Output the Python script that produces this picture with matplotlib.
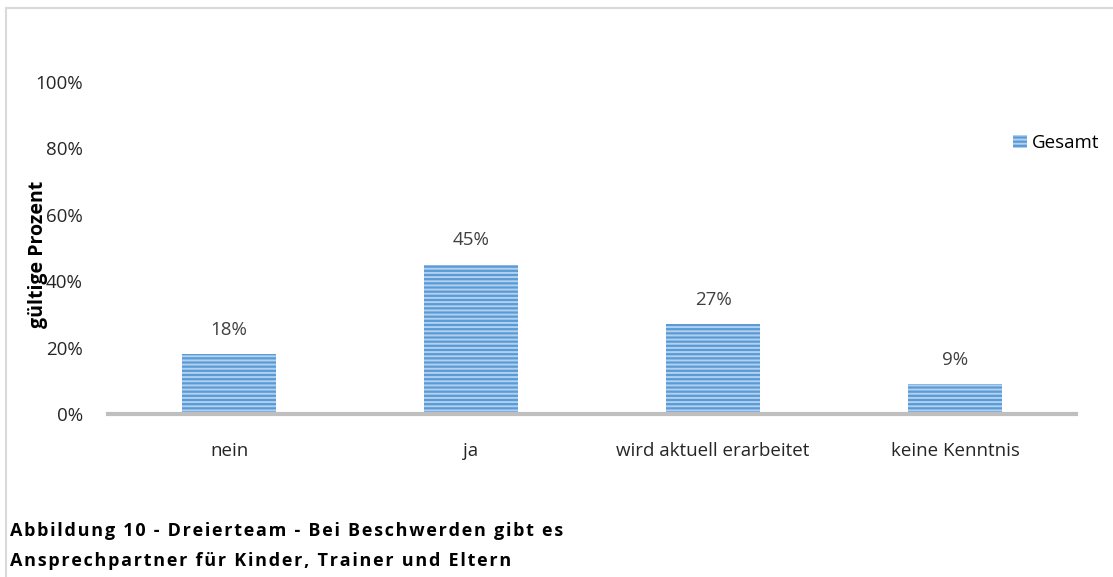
import matplotlib
matplotlib.use("Agg")
import matplotlib.pyplot as plt
from matplotlib.patches import Rectangle

categories = ["nein", "ja", "wird aktuell erarbeitet", "keine Kenntnis"]
values = [0.18, 0.45, 0.27, 0.09]
value_labels = ["18%", "45%", "27%", "9%"]
yticks = [0, 0.2, 0.4, 0.6, 0.8, 1.0]
ytick_labels = ["0%", "20%", "40%", "60%", "80%", "100%"]
series_name = "Gesamt"
ylabel = "gültige Prozent"
title_lines = ["Abbildung 10 - Dreierteam - Bei Beschwerden gibt es",
               "Ansprechpartner für Kinder, Trainer und Eltern"]

FONT = ["Open Sans", "DejaVu Sans"]
plt.rcParams['font.family'] = FONT
plt.rcParams['hatch.linewidth'] = 1.4

W, H = 1113, 577
fig = plt.figure(figsize=(W / 100, H / 100), dpi=100)
fig.patch.set_facecolor("white")

# outer chart frame
fig.patches.append(Rectangle((6 / W, -0.1), 1.2, 1.1 - 8 / H,
                             transform=fig.transFigure, fill=False,
                             edgecolor="#d9d9d9", linewidth=1.5))

ax = fig.add_axes([108 / W, 1 - 414 / H, (1076 - 108) / W, (414 - 82) / H])
x = list(range(len(categories)))
bars = ax.bar(x, values, width=0.385, color="#5b9bd5", edgecolor="#b2d0ef",
              hatch="----", linewidth=0, label=series_name)

FS = 13.5
ax.set_xlim(-0.5, len(categories) - 0.5)
ax.set_ylim(0, 1.0)
ax.set_yticks(yticks)
ax.set_yticklabels(ytick_labels, fontsize=FS, color="#262626")
ax.set_xticks(x)
ax.set_xticklabels(categories, fontsize=FS, color="#262626")
ax.tick_params(axis="both", length=0)
ax.tick_params(axis="y", pad=18)
ax.tick_params(axis="x", pad=20)
for s in ["top", "right", "left"]:
    ax.spines[s].set_visible(False)
ax.spines["bottom"].set_color("#bfbfbf")
ax.spines["bottom"].set_linewidth(3)

for xi, v, lab in zip(x, values, value_labels):
    ax.annotate(lab, (xi, v), xytext=(0, 11), textcoords="offset points",
                ha="center", va="bottom", fontsize=FS, color="#404040")

fig.text(38 / W, 1 - 254 / H, ylabel, rotation=90, ha="center", va="center",
         fontsize=14, fontweight="bold", color="#000000")

leg = ax.legend(loc="center left", bbox_to_anchor=(1004 / W, 1 - 143 / H),
                bbox_transform=fig.transFigure, frameon=False, fontsize=FS,
                handlelength=0.75, handleheight=0.75, handletextpad=0.25,
                borderpad=0)

sp = "\u200a"
for i, line in enumerate(title_lines):
    spaced = sp.join(list(line))
    fig.text(10 / W, 1 - (531 + 30 * i) / H, spaced, ha="left", va="center",
             fontsize=13, fontweight="bold", color="#000000")

fig.savefig("out.png", dpi=100)
